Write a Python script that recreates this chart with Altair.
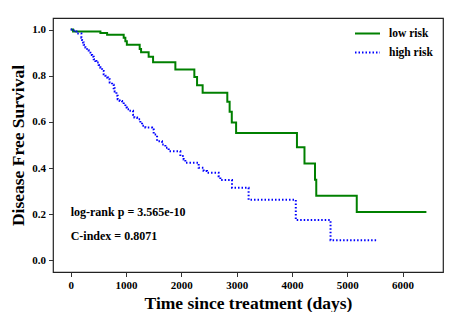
import altair as alt
import pandas as pd

# Kaplan-Meier step curves (time in days, survival probability)
low_t = [0, 43, 537, 658, 958, 988, 1015, 1247, 1272, 1409, 1489, 1892, 2235, 2284, 2385,
         2831, 2873, 2912, 2990, 4090, 4226, 4416, 4439, 5171, 6430]
low_s = [1.0, 0.991, 0.985, 0.977, 0.964, 0.949, 0.934, 0.916, 0.902, 0.882, 0.858, 0.827,
         0.794, 0.759, 0.726, 0.687, 0.644, 0.597, 0.552, 0.490, 0.420, 0.350, 0.280, 0.210, 0.210]

high_t = [0, 40, 85, 103, 193, 206, 224, 235, 266, 296, 325, 356, 387, 416, 446, 464, 506, 537,
          567, 596, 627, 658, 676, 705, 748, 777, 795, 826, 849, 885, 929, 958, 988, 1019, 1061,
          1127, 1151, 1200, 1259, 1290, 1350, 1471, 1500, 1561, 1651, 1711, 1771, 1982, 2042,
          2072, 2313, 2403, 2464, 2674, 2705, 2916, 3216, 4069, 4697, 5536]
high_s = [1.0, 0.996, 0.991, 0.983, 0.965, 0.955, 0.944, 0.934, 0.922, 0.910, 0.900, 0.890,
          0.882, 0.871, 0.864, 0.857, 0.847, 0.835, 0.821, 0.806, 0.800, 0.792, 0.785, 0.771,
          0.761, 0.746, 0.732, 0.713, 0.698, 0.691, 0.684, 0.677, 0.662, 0.655, 0.648, 0.631,
          0.619, 0.612, 0.597, 0.583, 0.576, 0.567, 0.545, 0.516, 0.502, 0.488, 0.473, 0.452,
          0.437, 0.423, 0.401, 0.387, 0.380, 0.365, 0.348, 0.315, 0.263, 0.175, 0.088, 0.088]

series_names = ["low risk", "high risk"]
series_colors = ["#008000", "#0000ff"]

x_ticks = [0, 1000, 2000, 3000, 4000, 5000, 6000]
y_ticks = [0.0, 0.2, 0.4, 0.6, 0.8, 1.0]

notes = ["log-rank p = 3.565e-10", "C-index = 0.8071"]
note_t = [0, 0]
note_s = [0.212, 0.108]

FONT = "Liberation Serif"

df = pd.concat([
    pd.DataFrame({"t": low_t, "s": low_s, "series": "low risk"}),
    pd.DataFrame({"t": high_t, "s": high_s, "series": "high risk"}),
])
notes_df = pd.DataFrame({"t": note_t, "s": note_s, "label": notes})

x_scale = alt.Scale(domain=[-320, 6730], nice=False, zero=False)
y_scale = alt.Scale(domain=[-0.05, 1.05], nice=False, zero=False)

legend = alt.Legend(
    title=None, orient="none", legendX=301, legendY=2, padding=0,
    symbolType="stroke", symbolSize=625, symbolStrokeWidth=2,
    labelFont=FONT, labelFontSize=11.5, labelFontWeight="bold", labelColor="black",
    labelOffset=8, rowPadding=0,
)

lines = alt.Chart(df).mark_line(interpolate="step-after", strokeWidth=2).encode(
    x=alt.X("t:Q", scale=x_scale,
            axis=alt.Axis(values=x_ticks, format="d", title="Time since treatment (days)",
                          titleX=195, titleY=36, titleBaseline="alphabetic")),
    y=alt.Y("s:Q", scale=y_scale,
            axis=alt.Axis(values=y_ticks, format=".1f", title="Disease Free Survival",
                          titleX=-30, titleY=127, titleBaseline="alphabetic")),
    color=alt.Color("series:N", scale=alt.Scale(domain=series_names, range=series_colors),
                    legend=legend),
    strokeDash=alt.StrokeDash("series:N",
                              scale=alt.Scale(domain=series_names, range=[[1, 0], [1.5, 2]]),
                              legend=legend),
    order=alt.Order("t:Q"),
)

text = alt.Chart(notes_df).mark_text(
    align="left", baseline="middle", font=FONT, fontSize=12, fontWeight="bold", color="black"
).encode(
    x=alt.X("t:Q", scale=x_scale),
    y=alt.Y("s:Q", scale=y_scale),
    text="label:N",
)

chart = (lines + text).properties(
    width=390, height=254,
    autosize=alt.AutoSizeParams(type="none"),
    padding={"left": 45, "top": 10, "right": 13, "bottom": 40},
).configure_view(
    stroke="#222", strokeWidth=1.2
).configure_axis(
    domain=False, grid=False,
    ticks=True, tickColor="#333", tickSize=4.5, tickWidth=1,
    labelFont=FONT, labelFontSize=11, labelFontWeight="bold", labelColor="black",
    labelPadding=3,
    titleFont=FONT, titleFontSize=17.5, titleFontWeight="bold", titleColor="black",
)

chart.save("out.html", embed_options={"renderer": "svg", "actions": False})
